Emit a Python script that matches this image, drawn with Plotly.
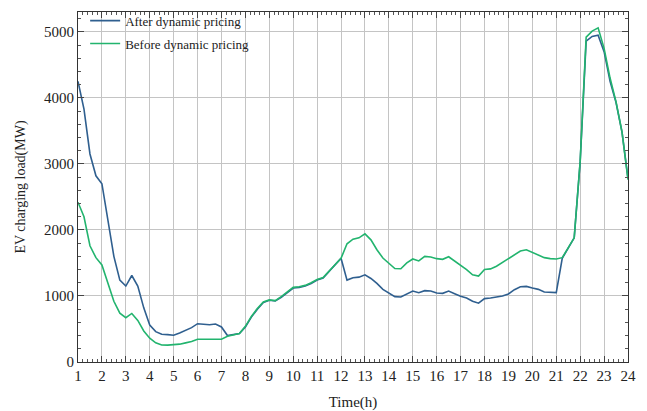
import plotly.graph_objects as go

hours = [1 + 0.25 * i for i in range(93)]

after_pricing = [
    4250, 3830, 3150, 2820, 2700, 2150, 1600, 1240, 1150, 1310, 1150, 820,
    560, 460, 420, 415, 405, 440, 480, 520, 580, 570, 565, 575,
    530, 400, 420, 430, 530, 680, 800, 900, 935, 925, 980, 1050,
    1120, 1130, 1150, 1190, 1240, 1270, 1371, 1470, 1570, 1240, 1275, 1285,
    1320, 1265, 1190, 1100, 1040, 990, 985, 1030, 1075, 1050, 1080, 1075,
    1045, 1040, 1075, 1035, 995, 970, 920, 890, 960, 970, 980, 1000,
    1030, 1095, 1140, 1145, 1120, 1100, 1060, 1050, 1050, 1570, 1720, 1880,
    3030, 4860, 4930, 4950, 4700, 4250, 3930, 3480, 2780,
]

before_pricing = [
    2420, 2200, 1760, 1580, 1470, 1180, 920, 740, 670, 735, 630, 470,
    360, 290, 257, 255, 257, 270, 290, 310, 345, 345, 342, 345,
    345, 390, 415, 430, 540, 690, 810, 910, 940, 930, 990, 1060,
    1130, 1140, 1160, 1200, 1250, 1280, 1380, 1475, 1570, 1790, 1860, 1880,
    1940, 1850, 1700, 1575, 1500, 1415, 1412, 1500, 1560, 1530, 1600, 1590,
    1565, 1555, 1594, 1530, 1460, 1400, 1320, 1300, 1400, 1410, 1450, 1510,
    1560, 1620, 1680, 1700, 1660, 1620, 1580, 1565, 1560, 1580, 1720, 1880,
    3040, 4920, 5010, 5060, 4750, 4300, 3940, 3480, 2760,
]

x_ticks = list(range(1, 25))
y_ticks = [0, 1000, 2000, 3000, 4000, 5000]

font_family = "Liberation Serif, Times New Roman, serif"

fig = go.Figure()
fig.add_trace(go.Scatter(
    x=hours, y=after_pricing, mode="lines", name="After dynamic pricing",
    legendgroup="a", line=dict(color="#2f5f8f", width=1.6),
))
fig.add_trace(go.Scatter(
    x=hours, y=before_pricing, mode="lines", name="Before dynamic pricing",
    legendgroup="b", line=dict(color="#22b46e", width=1.6),
))

axis_common = dict(
    showline=True, linecolor="#333333", linewidth=1, mirror="allticks",
    ticks="inside", ticklen=6, tickcolor="#444444",
    showgrid=True, gridcolor="#c4c4c4", gridwidth=1, zeroline=False,
    tickfont=dict(family=font_family, size=15, color="#222222"),
    automargin=False,
)

fig.update_xaxes(
    range=[1, 24], tickvals=x_ticks, ticktext=[str(v) for v in x_ticks],
    minor=dict(dtick=0.2, ticks="inside", ticklen=3, tickcolor="#555555", showgrid=False),
    title=dict(text="Time(h)", font=dict(family=font_family, size=15, color="#222222")),
    **axis_common,
)
fig.update_yaxes(
    range=[0, 5300], tickvals=y_ticks, ticktext=[str(v) for v in y_ticks],
    minor=dict(dtick=200, ticks="inside", ticklen=3, tickcolor="#555555", showgrid=False),
    title=dict(text="EV charging load(MW)", font=dict(family=font_family, size=14, color="#222222")),
    **axis_common,
)

fig.update_layout(
    width=647, height=411,
    margin=dict(l=78, r=19, t=6, b=49),
    plot_bgcolor="white", paper_bgcolor="white",
    font=dict(family=font_family, color="#222222"),
    legend=dict(
        x=0.013, y=1.018, xanchor="left", yanchor="top",
        bgcolor="rgba(255,255,255,0)", borderwidth=0,
        font=dict(family=font_family, size=13, color="#222222"),
        tracegroupgap=3, itemwidth=30,
    ),
)

fig.write_html(
    "out.html",
    config={"displayModeBar": False},
    post_script="document.body.style.margin='0';",
)
